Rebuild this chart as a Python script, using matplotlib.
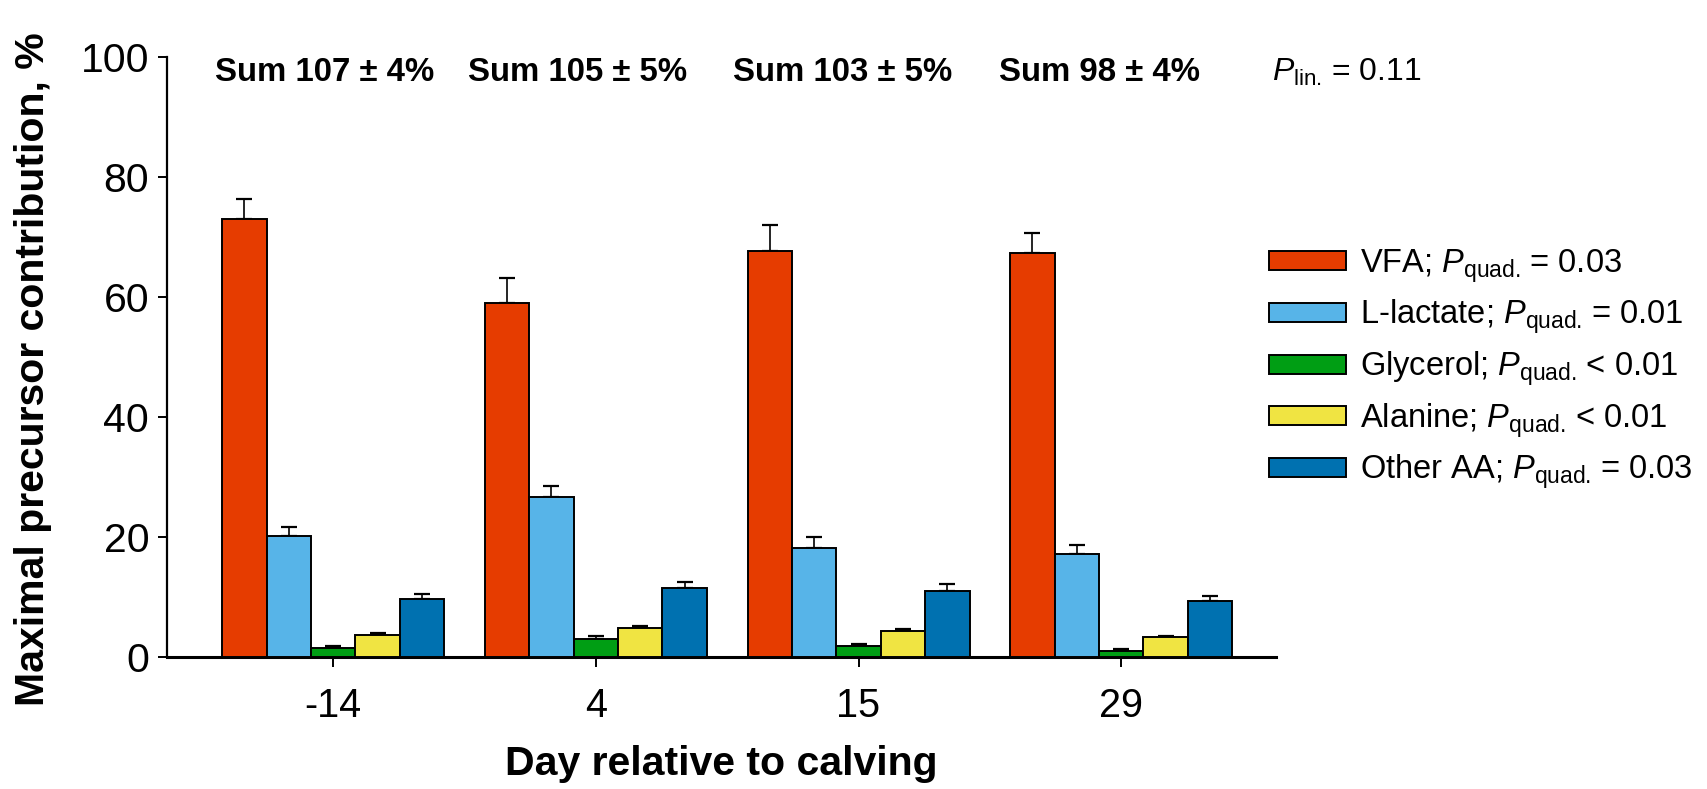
import matplotlib
matplotlib.use("Agg")
import matplotlib.pyplot as plt
import numpy as np

plt.rcParams['font.family'] = ['Liberation Sans', 'DejaVu Sans']
plt.rcParams['mathtext.fontset'] = 'custom'
plt.rcParams['mathtext.rm'] = 'Liberation Sans'
plt.rcParams['mathtext.it'] = 'Liberation Sans:italic'
plt.rcParams['mathtext.bf'] = 'Liberation Sans:bold'

days = ["-14", "4", "15", "29"]
series = ["VFA", "L-lactate", "Glycerol", "Alanine", "Other AA"]
p_texts = [r"$P_{\mathrm{quad.}}\,$= 0.03", r"$P_{\mathrm{quad.}}\,$= 0.01",
           r"$P_{\mathrm{quad.}}\,$< 0.01", r"$P_{\mathrm{quad.}}\,$< 0.01",
           r"$P_{\mathrm{quad.}}\,$= 0.03"]
vfa = [72.9, 59.0, 67.7, 67.3]
vfa_err = [3.4, 4.2, 4.3, 3.4]
lactate = [20.2, 26.7, 18.3, 17.3]
lactate_err = [1.5, 1.9, 1.8, 1.5]
glycerol = [1.55, 3.1, 1.86, 1.13]
glycerol_err = [0.4, 0.4, 0.45, 0.3]
alanine = [3.7, 4.85, 4.36, 3.36]
alanine_err = [0.4, 0.4, 0.3, 0.25]
other_aa = [9.7, 11.6, 11.1, 9.4]
other_aa_err = [0.85, 1.0, 1.1, 0.8]
sum_labels = ["Sum 107 \u00b1 4%", "Sum 105 \u00b1 5%", "Sum 103 \u00b1 5%", "Sum 98 \u00b1 4%"]
colors = ["#E63C00", "#57B4E8", "#009E14", "#F0E442", "#0071B0"]

values = [vfa, lactate, glycerol, alanine, other_aa]
errors = [vfa_err, lactate_err, glycerol_err, alanine_err, other_aa_err]

fig = plt.figure(figsize=(17.07, 7.89), dpi=100)
ax = fig.add_axes([0.0976, 0.1667, 0.6499, 0.7616])

x = np.arange(len(days))
w = 0.169
handles = []
for i, (vals, errs, c) in enumerate(zip(values, errors, colors)):
    pos = x + (i - 2) * w
    b = ax.bar(pos, vals, width=w, color=c, edgecolor='black', linewidth=1.4, zorder=3)
    ax.errorbar(pos, vals, yerr=[np.zeros(len(errs)), errs], fmt='none',
                ecolor='black', elinewidth=1.2, capsize=6, capthick=1.6, zorder=2)
    handles.append(b)

ax.set_xlim(-0.634, 3.589)
ax.set_ylim(0, 100)
ax.set_yticks([0, 20, 40, 60, 80, 100])
ax.set_xticks(x)
ax.set_xticklabels(days)
ax.spines['top'].set_visible(False)
ax.spines['right'].set_visible(False)
ax.spines['left'].set_linewidth(1.6)
ax.spines['bottom'].set_linewidth(2.2)
ax.tick_params(axis='y', direction='out', length=6.5, width=1.4, labelsize=29.5, pad=6)
ax.tick_params(axis='x', direction='out', length=7, width=1.4, labelsize=28.5, pad=14)

ax.set_xlabel("Day relative to calving", fontsize=29.5, fontweight='bold')
ax.xaxis.set_label_coords(0.5, -0.145)
ax.set_ylabel("Maximal precursor contribution, %", fontsize=29.5, fontweight='bold')
ax.yaxis.set_label_coords(-0.103, 0.48)

sum_offsets = [-0.033, -0.07, -0.062, -0.083]
for i, s in enumerate(sum_labels):
    ax.text(x[i] + sum_offsets[i], 97.4, s, ha='center', va='center',
            fontsize=23.8, fontweight='bold')
ax.text(3.572, 97.4, r"$P_{\mathrm{lin.}}\,$= 0.11", ha='left', va='center', fontsize=23)

labels = [f"{s}; {p}" for s, p in zip(series, p_texts)]
fig.legend(handles, labels, loc='center left', bbox_to_anchor=(0.7436, 0.532),
           frameon=False, fontsize=23.5, handlelength=2.35, handleheight=0.52,
           handletextpad=0.44, labelspacing=0.4, borderpad=0, borderaxespad=0)

fig.savefig("out.png", dpi=100)
